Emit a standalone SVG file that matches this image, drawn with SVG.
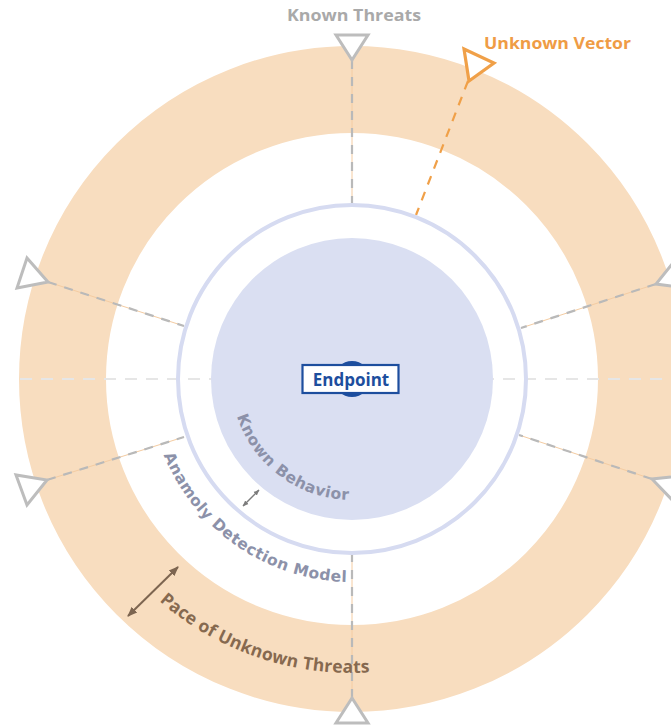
<svg xmlns="http://www.w3.org/2000/svg" width="671" height="726" viewBox="0 0 671 726">
<style>
.spoke-o{stroke:#f4cca2;stroke-width:1;fill:none}
.spoke-g{stroke:#b9b9b9;stroke-width:2.2;stroke-dasharray:9 8;fill:none}
.tri{fill:#fff;stroke:#bdbdbd;stroke-width:3;stroke-linejoin:miter}
.arc{font-family:"DejaVu Sans",sans-serif;font-weight:700}
.arc2{font-family:"Open Sans","DejaVu Sans",sans-serif;font-weight:700}
</style>
<defs>
<marker id="ahG" viewBox="0 0 10 10" refX="9" refY="5" markerWidth="6" markerHeight="6" orient="auto-start-reverse" markerUnits="userSpaceOnUse"><path d="M0,1 L10,5 L0,9 Z" fill="#7c7c7c"/></marker>
<marker id="ahB" viewBox="0 0 10 10" refX="9" refY="5" markerWidth="10" markerHeight="10" orient="auto-start-reverse" markerUnits="userSpaceOnUse"><path d="M0,1 L10,5 L0,9 Z" fill="#7d6550"/></marker>
<path id="pKnown" d="M231,379 A121,121 0 0 0 456.8,439.5" fill="none"/>
<path id="pAnam" d="M149,379 A203,203 0 0 0 527.8,480.5" fill="none"/>
<path id="pPace" d="M58,379 A294,294 0 0 0 606.6,526" fill="none"/>
</defs>
<rect width="671" height="726" fill="#fff"/>
<g id="pace-ring"><circle cx="352" cy="379" r="289.5" fill="none" stroke="#f8ddbf" stroke-width="87"/></g>
<g id="axis"><line x1="20" y1="379" x2="671" y2="379" stroke="#e6e6e6" stroke-width="2" stroke-dasharray="12 9"/></g>
<g id="connectors">
<line class="spoke-o" x1="352" y1="60" x2="352" y2="205"/><line class="spoke-g" x1="352" y1="60" x2="352" y2="205"/>
<line class="spoke-o" x1="352" y1="553" x2="352" y2="698"/><line class="spoke-g" x1="352" y1="553" x2="352" y2="698"/>
<line class="spoke-o" x1="48" y1="282" x2="184" y2="326"/><line class="spoke-g" x1="48" y1="282" x2="184" y2="326"/>
<line class="spoke-o" x1="47" y1="480" x2="184" y2="437"/><line class="spoke-g" x1="47" y1="480" x2="184" y2="437"/>
<line class="spoke-o" x1="656" y1="284" x2="521" y2="328"/><line class="spoke-g" x1="656" y1="284" x2="521" y2="328"/>
<line class="spoke-o" x1="652" y1="479" x2="519" y2="435"/><line class="spoke-g" x1="652" y1="479" x2="519" y2="435"/>
<line x1="468" y1="81" x2="416" y2="215" stroke="#f0a048" stroke-width="2.2" stroke-dasharray="9 8"/>
<line x1="243" y1="506" x2="259" y2="490" stroke="#7c7c7c" stroke-width="1.5" marker-start="url(#ahG)" marker-end="url(#ahG)"/>
<line x1="128" y1="616" x2="178" y2="567" stroke="#7d6550" stroke-width="2" marker-start="url(#ahB)" marker-end="url(#ahB)"/>
</g>
<g id="detection-ring"><circle cx="352" cy="379" r="174" fill="none" stroke="#d6dbf1" stroke-width="4"/></g>
<g id="known-behavior"><circle cx="352" cy="379" r="141" fill="#dadff2"/></g>
<g id="triangles">
<polygon class="tri" points="336,35 368,35 352,60"/>
<polygon class="tri" points="352,698 336,723 368,723"/>
<polygon class="tri" points="27,258 17,288 48,282"/>
<polygon class="tri" points="16,475 27,505 47,480"/>
<polygon class="tri" points="677,258 687,288 656,284"/>
<polygon class="tri" points="688,475 677,505 652,479"/>
<polygon points="464,49 494,63 469,81" fill="#fff" stroke="#f0a048" stroke-width="3.2"/>
</g>
<g id="endpoint">
<circle cx="352" cy="379" r="18" fill="#1d4e9e"/>
<rect x="302.5" y="365" width="96" height="28" fill="#fff" stroke="#1d4e9e" stroke-width="2.2"/>
<text x="351" y="386" text-anchor="middle" font-family="'Open Sans','DejaVu Sans',sans-serif" font-weight="700" font-size="17" fill="#1d4e9e">Endpoint</text>
</g>
<g id="labels">
<text x="354" y="21" text-anchor="middle" font-family="'Open Sans','DejaVu Sans',sans-serif" font-weight="700" font-size="16" fill="#a9a9a9" textLength="134" lengthAdjust="spacingAndGlyphs">Known Threats</text>
<text x="484" y="49" font-family="'Open Sans','DejaVu Sans',sans-serif" font-weight="700" font-size="16.5" fill="#ef9c45" textLength="147" lengthAdjust="spacingAndGlyphs">Unknown Vector</text>
<text class="arc" font-size="15.5" fill="#8c91a9" letter-spacing="0.5"><textPath href="#pKnown" startOffset="112.5" text-anchor="middle">Known Behavior</textPath></text>
<text class="arc" font-size="15.5" fill="#8c91a9" letter-spacing="0.5"><textPath href="#pAnam" startOffset="195.8" text-anchor="middle">Anamoly Detection Model</textPath></text>
<text class="arc2" font-size="17.5" fill="#86694f" letter-spacing="0.2"><textPath href="#pPace" startOffset="365.6" text-anchor="middle">Pace of Unknown Threats</textPath></text>
</g>
</svg>
